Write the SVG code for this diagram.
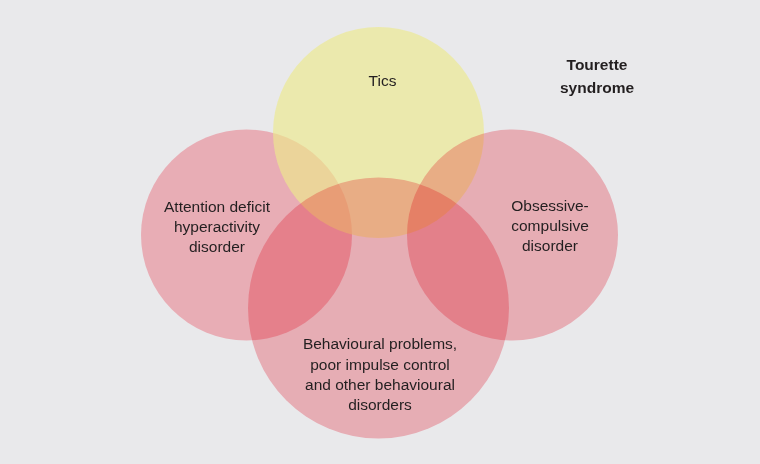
<svg xmlns="http://www.w3.org/2000/svg" width="760" height="464" viewBox="0 0 760 464">
<style>
.t{font-family:"Liberation Sans",Arial,sans-serif;font-size:15.5px;fill:#231f20;text-anchor:middle}
.b{font-weight:bold}
.m{mix-blend-mode:multiply}
</style>
<rect width="760" height="464" fill="#e9e9eb"/>
<g id="adhd">
<circle cx="246.5" cy="235" r="105.5" fill="#e8adb5"/>
</g>
<g id="tics">
<circle cx="378.5" cy="132.5" r="105.5" fill="#ecea8c" fill-opacity="0.65"/>
</g>
<g id="ocd">
<circle class="m" cx="512.5" cy="235" r="105.5" fill="#fcbdc4"/>
</g>
<g id="behaviour">
<circle class="m" cx="378.5" cy="308" r="130.5" fill="#fcbdc4"/>
</g>
<g id="labels">
<text class="t" x="382.5" y="86">Tics</text>
<text class="t" x="217" y="212">Attention deficit</text>
<text class="t" x="217" y="232">hyperactivity</text>
<text class="t" x="217" y="252">disorder</text>
<text class="t" x="550" y="211">Obsessive-</text>
<text class="t" x="550" y="231">compulsive</text>
<text class="t" x="550" y="251">disorder</text>
<text class="t" x="380" y="349">Behavioural problems,</text>
<text class="t" x="380" y="370">poor impulse control</text>
<text class="t" x="380" y="390">and other behavioural</text>
<text class="t" x="380" y="410">disorders</text>
<text class="t b" x="597" y="70">Tourette</text>
<text class="t b" x="597" y="93">syndrome</text>
</g>
</svg>
